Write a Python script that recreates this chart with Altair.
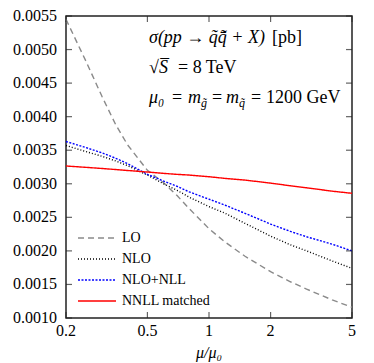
import altair as alt
import pandas as pd

# ---- data ----
mu = [0.2, 0.25, 0.3, 0.35, 0.4, 0.5, 0.6, 0.7, 0.8, 1.0, 1.2, 1.5, 2.0, 2.5, 3.0, 4.0, 5.0]
lo = [0.00545, 0.00483, 0.00430, 0.00388, 0.00358, 0.00320, 0.003015, 0.00282, 0.00263, 0.00233, 0.00213, 0.00192, 0.00169, 0.00154, 0.00143, 0.00127, 0.00116]
nlo = [0.00357, 0.00348, 0.00341, 0.00334, 0.00327, 0.00313, 0.00300, 0.00290, 0.00280, 0.00266, 0.00256, 0.00241, 0.00222, 0.00209, 0.00200, 0.00185, 0.00174]
nlo_nll = [0.00363, 0.00354, 0.00346, 0.00338, 0.00330, 0.00314, 0.00304, 0.00296, 0.00288, 0.00277, 0.00268, 0.00256, 0.00240, 0.00229, 0.00221, 0.00210, 0.00200]
nnll = [0.003265, 0.003245, 0.003228, 0.003212, 0.003198, 0.003175, 0.003155, 0.00314, 0.00313, 0.003105, 0.00308, 0.003055, 0.00301, 0.00297, 0.00294, 0.00289, 0.002858]

series = ["LO", "NLO", "NLO+NLL", "NNLL matched"]
colors = ["#8a8a8a", "#000000", "#0000ff", "#ff0000"]
dashes = [[6, 4], [1, 2], [2, 1.5], [1, 0]]
x_ticks = [0.2, 0.5, 1, 2, 5]
x_labels = ["0.2", "0.5", "1", "2", "5"]
y_ticks = [0.0010, 0.0015, 0.0020, 0.0025, 0.0030, 0.0035, 0.0040, 0.0045, 0.0050, 0.0055]
y_labels = ["0.0010", "0.0015", "0.0020", "0.0025", "0.0030", "0.0035", "0.0040", "0.0045", "0.0050", "0.0055"]

rows = []
for name, vals in zip(series, [lo, nlo, nlo_nll, nnll]):
    for m, v in zip(mu, vals):
        rows.append({"series": name, "mu": m, "val": v})
df = pd.DataFrame(rows)

W, H = 286, 302
FONT = "'Liberation Serif', 'DejaVu Serif', serif"
FRAME = "#222222"

xscale = alt.Scale(type="log", domain=[0.2, 5], nice=False)
yscale = alt.Scale(domain=[0.0010, 0.0055], nice=False, zero=False)

lines = alt.Chart(df).mark_line(strokeWidth=1.4).encode(
    x=alt.X("mu:Q", scale=xscale, axis=None),
    y=alt.Y("val:Q", scale=yscale, axis=None),
    color=alt.Color("series:N", scale=alt.Scale(domain=series, range=colors), legend=None),
    strokeDash=alt.StrokeDash("series:N", scale=alt.Scale(domain=series, range=dashes), legend=None),
    detail="series:N",
)

xt = pd.DataFrame({"t": x_ticks, "lab": x_labels})
yt = pd.DataFrame({"t": y_ticks, "lab": y_labels})
tick_x_bottom = alt.Chart(xt).mark_tick(size=6, thickness=1.2, color=FRAME).encode(
    x=alt.X("t:Q", scale=xscale, axis=None), y=alt.value(H - 3))
tick_x_top = alt.Chart(xt).mark_tick(size=6, thickness=1.2, color=FRAME).encode(
    x=alt.X("t:Q", scale=xscale, axis=None), y=alt.value(3))
tick_y_left = alt.Chart(yt).mark_tick(size=6, thickness=1.2, color=FRAME).encode(
    y=alt.Y("t:Q", scale=yscale, axis=None), x=alt.value(3))
tick_y_right = alt.Chart(yt).mark_tick(size=6, thickness=1.2, color=FRAME).encode(
    y=alt.Y("t:Q", scale=yscale, axis=None), x=alt.value(W - 3))

# tick labels drawn as text through the scales
xlab = alt.Chart(xt).mark_text(font=FONT, fontSize=16, color="#000", align="center",
                               baseline="middle").encode(
    x=alt.X("t:Q", scale=xscale, axis=None), y=alt.value(H + 13), text="lab:N")
ylab = alt.Chart(yt).mark_text(font=FONT, fontSize=16, color="#000", align="right",
                               baseline="middle").encode(
    y=alt.Y("t:Q", scale=yscale, axis=None), x=alt.value(-9), text="lab:N")
xtitle = alt.Chart(pd.DataFrame({"s": ["μ/μ₀"]})).mark_text(
    font=FONT, fontSize=16, fontStyle="italic", color="#000", align="center",
    baseline="middle").encode(text="s:N", x=alt.value(W / 2), y=alt.value(H + 35))


def txt(s, x, y, size=18, style="normal"):
    return alt.Chart(pd.DataFrame({"s": [s]})).mark_text(
        align="left", baseline="alphabetic", font=FONT, fontSize=size,
        fontStyle=style, color="#000").encode(text="s:N", x=alt.value(x), y=alt.value(y))


annots = [
    txt("σ(pp → q̃q̃̄ + X)", 83, 27, style="italic"),
    txt("[pb]", 206, 27),
    txt("√S̅", 83, 57, style="italic"),
    txt("= 8 TeV", 112, 57),
    txt("μ₀", 83, 87, style="italic"),
    txt("=", 106, 87),
    txt("m", 122, 87, style="italic"),
    txt("g̃", 135, 91, size=12, style="italic"),
    txt("=", 146, 87),
    txt("m", 160, 87, style="italic"),
    txt("q̃", 173, 91, size=12, style="italic"),
    txt("=", 185, 87),
    txt("1200 GeV", 200, 87),
]

# manual legend
legend_layers = []
leg_rows = [222, 243, 264, 285]
for name, col, dash, ry in zip(series, colors, dashes, leg_rows):
    legend_layers.append(
        alt.Chart(pd.DataFrame({"s": [name]})).mark_rule(color=col, strokeDash=dash, strokeWidth=1.4).encode(
            x=alt.value(12), x2=alt.value(50), y=alt.value(ry)))
    legend_layers.append(
        alt.Chart(pd.DataFrame({"s": [name]})).mark_text(
            align="left", baseline="middle", font=FONT, fontSize=14, color="#000").encode(
            text="s:N", x=alt.value(56), y=alt.value(ry)))

chart = alt.layer(lines, tick_x_bottom, tick_x_top, tick_y_left, tick_y_right,
                  xlab, ylab, xtitle, *annots, *legend_layers).properties(
    width=W, height=H,
    autosize=alt.AutoSizeParams(type="none"),
    padding={"left": 58, "top": 8, "right": 14, "bottom": 46},
).configure_view(stroke=FRAME, strokeWidth=1.5)

chart.save("out.html", embed_options={"renderer": "svg", "actions": False})
